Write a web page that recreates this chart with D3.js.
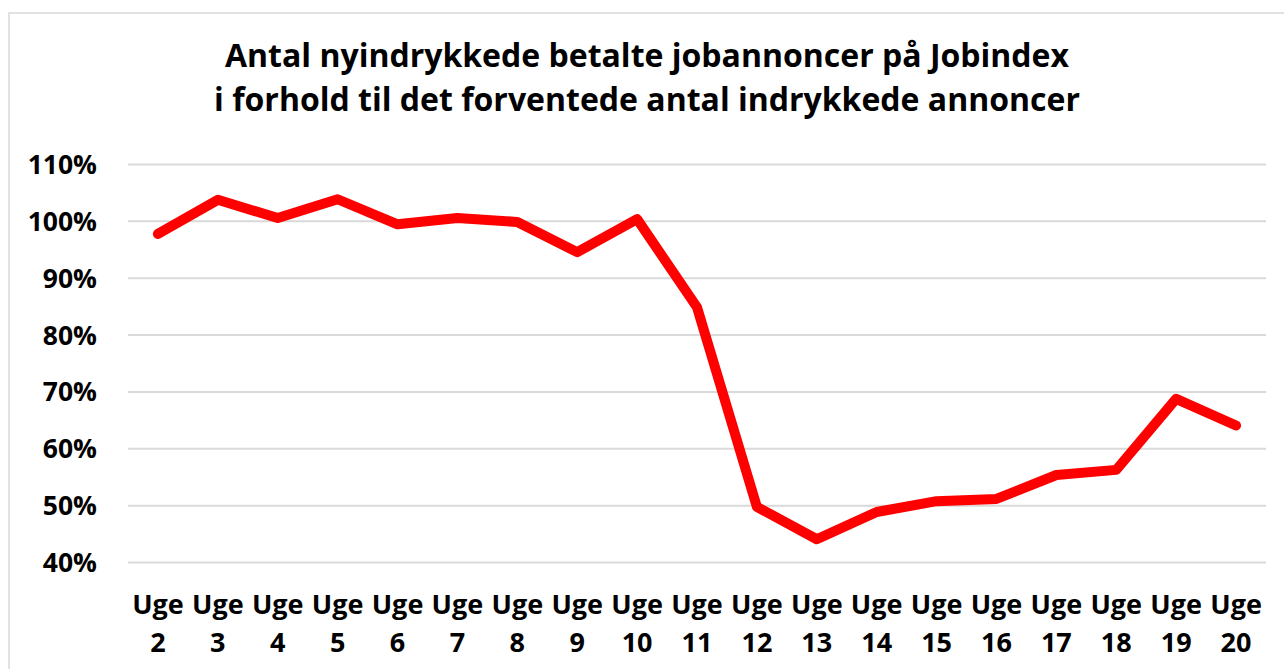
<!DOCTYPE html>
<html>
<head>
<meta charset="utf-8">
<script src="https://cdn.jsdelivr.net/npm/d3@7.9.0/dist/d3.min.js"></script>
<style>
  body { margin: 0; background: #fff; }
  svg text { font-family: "Open Sans", Lato, sans-serif; font-weight: bold; fill: #000; }
</style>
</head>
<body>
<svg id="chart" width="1284" height="669"></svg>
<script>
const weeks = ['2','3','4','5','6','7','8','9','10','11','12','13','14','15','16','17','18','19','20'];
const values = [97.7, 103.7, 100.5, 103.8, 99.4, 100.5, 99.8, 94.5, 100.3, 84.8, 49.7, 44.0, 48.8, 50.7, 51.1, 55.3, 56.2, 68.7, 64.0];
const yTicks = [40, 50, 60, 70, 80, 90, 100, 110];
const titleLines = ['Antal nyindrykkede betalte jobannoncer på Jobindex', 'i forhold til det forventede antal indrykkede annoncer'];

const svg = d3.select('#chart');

// outer chart border
svg.append('rect')
    .attr('x', 9).attr('y', 13)
    .attr('width', 1400).attr('height', 800)
    .attr('fill', 'none')
    .attr('stroke', '#d9d9d9')
    .attr('stroke-width', 1.5);

const plotLeft = 128, plotRight = 1266, plotTop = 164, plotBottom = 562;

let x = d3.scalePoint().domain(weeks).range([plotLeft, plotRight]).padding(0.5);
let y = d3.scaleLinear().domain([40, 110]).range([plotBottom, plotTop]);

// title
svg.selectAll('.title')
    .data(titleLines)
    .join('text')
    .attr('class', 'title')
    .attr('x', 647)
    .attr('y', (d, i) => 67 + i * 44)
    .attr('text-anchor', 'middle')
    .attr('font-size', 32)
    .text(d => d);

// gridlines + y labels
let yAxis = d3.axisLeft(y).tickValues(yTicks).tickSize(-(plotRight - plotLeft)).tickFormat(d => d + '%');
let gy = svg.append('g').attr('transform', `translate(${plotLeft},0)`).call(yAxis);
gy.select('.domain').remove();
gy.selectAll('.tick line').attr('stroke', '#d9d9d9').attr('stroke-width', 2);
gy.selectAll('.tick text')
    .attr('x', -31)
    .attr('dy', '0.36em')
    .attr('font-size', 26.5)
    .style('font-family', '"Open Sans", sans-serif');

// x labels
let xl = svg.append('g').selectAll('g')
    .data(weeks)
    .join('g')
    .attr('transform', d => `translate(${x(d)},0)`);
xl.append('text').attr('y', 614).attr('text-anchor', 'middle').attr('font-size', 27).text('Uge');
xl.append('text').attr('y', 652).attr('text-anchor', 'middle').attr('font-size', 27).text(d => d);

// line
let line = d3.line().x((d, i) => x(weeks[i])).y(d => y(d));
svg.append('path')
    .datum(values)
    .attr('d', line)
    .attr('fill', 'none')
    .attr('stroke', '#ff0000')
    .attr('stroke-width', 10)
    .attr('stroke-linejoin', 'round')
    .attr('stroke-linecap', 'round');
</script>
</body>
</html>
